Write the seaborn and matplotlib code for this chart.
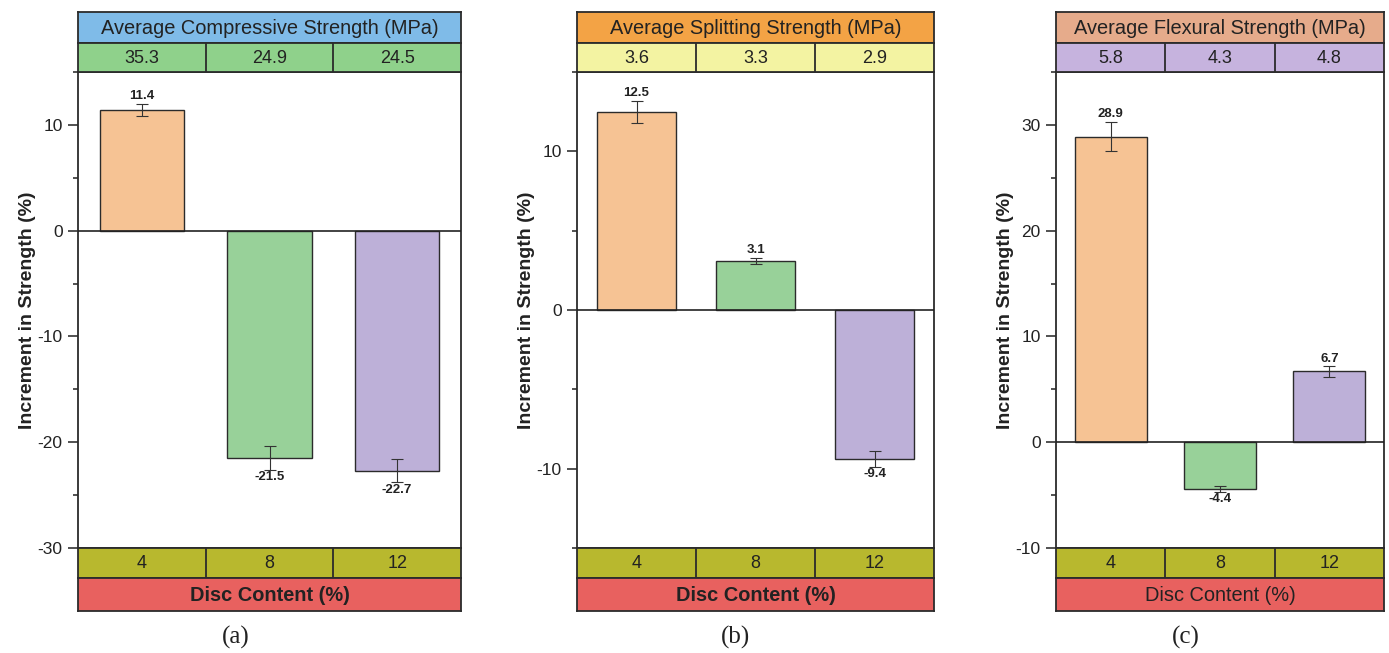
import matplotlib
matplotlib.use("Agg")
import matplotlib.pyplot as plt
from matplotlib.ticker import MultipleLocator
import seaborn as sns
import pandas as pd

# Disc content levels (%)
disc_content = ["4", "8", "12"]

# Increment in strength (%) and their error ranges
compressive_inc = [11.4, -21.5, -22.7]
compressive_err = [0.6, 1.1, 1.1]
splitting_inc = [12.5, 3.1, -9.4]
splitting_err = [0.7, 0.2, 0.5]
flexural_inc = [28.9, -4.4, 6.7]
flexural_err = [1.4, 0.3, 0.5]

# Average strengths (MPa)
compressive_avg = ["35.3", "24.9", "24.5"]
splitting_avg = ["3.6", "3.3", "2.9"]
flexural_avg = ["5.8", "4.3", "4.8"]

titles = ["Average Compressive Strength (MPa)",
          "Average Splitting Strength (MPa)",
          "Average Flexural Strength (MPa)"]
panel_tags = ["(a)", "(b)", "(c)"]

sns.set_style("ticks")
plt.rcParams["font.family"] = ["Liberation Sans", "DejaVu Sans"]
plt.rcParams["axes.unicode_minus"] = False

W, H = 1389, 653
fig = plt.figure(figsize=(W / 100, H / 100), dpi=100)

bar_colors = ["#F6C394", "#98D199", "#BDB0D8"]
edge = "#2b2b2b"


def px_axes(x0, x1, y0, y1):
    return fig.add_axes([x0 / W, 1 - y1 / H, (x1 - x0) / W, (y1 - y0) / H])


def band(x0, x1, y0, y1, color, texts, size, bold=False):
    bx = px_axes(x0, x1, y0, y1)
    bx.set_facecolor(color)
    bx.set_xlim(0, 1)
    bx.set_ylim(0, 1)
    bx.set_xticks([])
    bx.set_yticks([])
    for s in bx.spines.values():
        s.set_linewidth(1.3)
        s.set_color(edge)
    n = len(texts)
    for i, t in enumerate(texts):
        bx.text((i + 0.5) / n, 0.47, t, ha="center", va="center",
                fontsize=size, color="#222222",
                fontweight="bold" if bold else "normal")
        if i > 0:
            bx.axvline(i / n, color=edge, lw=1.3)
    return bx


panels = [
    dict(x=(78, 461), inc=compressive_inc, err=compressive_err, avg=compressive_avg,
         ylim=(-30, 15), title_c="#7FBBE8", row_c="#8FD18B", xbold=True,
         tag_x=236),
    dict(x=(577, 934), inc=splitting_inc, err=splitting_err, avg=splitting_avg,
         ylim=(-15, 15), title_c="#F3A345", row_c="#F3F3A2", xbold=True,
         tag_x=735),
    dict(x=(1056, 1384), inc=flexural_inc, err=flexural_err, avg=flexural_avg,
         ylim=(-10, 35), title_c="#E6AB8B", row_c="#C6B3DE", xbold=False,
         tag_x=1186),
]

for k, p in enumerate(panels):
    x0, x1 = p["x"]
    ax = px_axes(x0, x1, 72, 548)
    df = pd.DataFrame({"content": disc_content, "inc": p["inc"]})
    sns.barplot(data=df, x="content", y="inc", hue="content",
                palette=bar_colors, saturation=1, width=0.66, edgecolor=edge,
                linewidth=1.0, errorbar=None, legend=False, ax=ax)
    ax.errorbar(range(len(disc_content)), p["inc"], yerr=p["err"], fmt="none",
                ecolor="#333333", elinewidth=0.8, capsize=4, capthick=0.8)
    ax.axhline(0, color="#222222", lw=1.2, zorder=3)
    for i, (v, e) in enumerate(zip(p["inc"], p["err"])):
        if v >= 0:
            ax.annotate(f"{v}", (i, v + e), xytext=(0, 1), textcoords="offset points",
                        ha="center", va="bottom", fontsize=9.5, fontweight="bold",
                        color="#222222")
        else:
            ax.annotate(f"{v}", (i, v - e), xytext=(0, -1), textcoords="offset points",
                        ha="center", va="top", fontsize=9.5, fontweight="bold",
                        color="#222222")
    ax.set_xlim(-0.5, 2.5)
    ax.set_ylim(*p["ylim"])
    ax.set_xticks([])
    ax.set_xlabel("")
    ax.yaxis.set_major_locator(MultipleLocator(10))
    ax.yaxis.set_minor_locator(MultipleLocator(5))
    ax.tick_params(axis="y", which="major", direction="out", length=7, width=1.1,
                   labelsize=12.5, pad=4, colors="#222222")
    ax.tick_params(axis="y", which="minor", direction="out", length=3.5, width=1.1,
                   colors="#222222")
    ax.set_ylabel("Increment in Strength (%)", fontsize=14, fontweight="bold",
                  color="#222222", labelpad=1)
    for s in ax.spines.values():
        s.set_visible(True)
        s.set_linewidth(1.3)
        s.set_color(edge)

    band(x0, x1, 12, 43, p["title_c"], [titles[k]], 14.4)
    band(x0, x1, 43, 72, p["row_c"], p["avg"], 13)
    band(x0, x1, 548, 578, "#B8B82E", disc_content, 13)
    band(x0, x1, 578, 611, "#E8615F", ["Disc Content (%)"], 14.4, bold=p["xbold"])

    fig.text(p["tag_x"] / W, 1 - 637 / H, panel_tags[k], ha="center", va="center",
             fontsize=18, family="Liberation Serif", color="#222222")

fig.savefig("out.png", dpi=100, facecolor="white")
